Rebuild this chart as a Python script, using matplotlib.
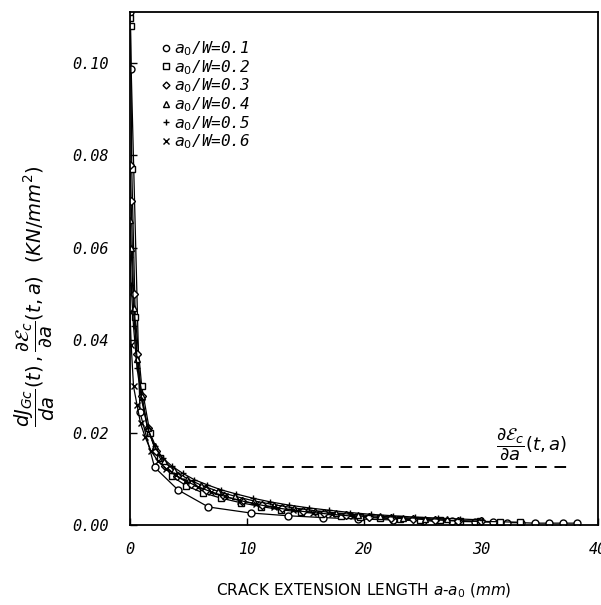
import matplotlib
matplotlib.use("Agg")
import matplotlib.pyplot as plt
from matplotlib.lines import Line2D

# ---- data -------------------------------------------------------------
labels = ["0.1", "0.2", "0.3", "0.4", "0.5", "0.6"]
markers = ["o", "s", "D", "^", "+", "x"]

x01 = [0, 0.1, 0.85, 2.1, 4.1, 6.7, 10.3, 13.5, 16.5, 19.5, 22.5, 25, 27.5, 29.5,
       31, 32.2, 33.4, 34.6, 35.8, 37, 38.2]
y01 = [0.111, 0.0987, 0.0244, 0.0125, 0.0076, 0.0039, 0.0026, 0.0020, 0.0016, 0.0013,
       0.0011, 0.0009, 0.0008, 0.0007, 0.0006, 0.0005, 0.0005, 0.0004, 0.0004, 0.0004, 0.0004]

x02 = [0, 0.05, 0.15, 0.45, 1.0, 1.7, 2.6, 3.6, 4.8, 6.2, 7.8, 9.5, 11.2, 12.9, 14.6,
       16.3, 18, 19.7, 21.4, 23.1, 24.8, 26.5, 28.2, 29.9, 31.6, 33.3]
y02 = [0.1097, 0.108, 0.077, 0.045, 0.030, 0.020, 0.0145, 0.0105, 0.0085, 0.0070, 0.0058,
       0.0048, 0.0040, 0.0033, 0.0028, 0.0024, 0.0020, 0.0017, 0.0015, 0.0013, 0.0011,
       0.0010, 0.0009, 0.0008, 0.0007, 0.0006]

x03 = [0, 0.1, 0.3, 0.6, 1.0, 1.5, 2.2, 3.0, 4.0, 5.2, 6.5, 8.0, 9.6, 11.3, 13.0, 14.8,
       16.6, 18.5, 20.4, 22.3, 24.2, 26.1, 28.0, 30.0]
y03 = [0.078, 0.070, 0.050, 0.037, 0.028, 0.021, 0.016, 0.0128, 0.0105, 0.0088, 0.0075,
       0.0062, 0.0052, 0.0043, 0.0036, 0.0030, 0.0025, 0.0021, 0.0018, 0.0015, 0.0013,
       0.0011, 0.0009, 0.0008]

x04 = [0, 0.1, 0.3, 0.6, 1.0, 1.5, 2.1, 2.9, 3.8, 4.9, 6.1, 7.5, 9.0, 10.6, 12.3, 14.0,
       15.8, 17.6, 19.5, 21.4, 23.3, 25.2, 27.1]
y04 = [0.066, 0.060, 0.047, 0.036, 0.028, 0.021, 0.017, 0.0138, 0.0118, 0.0100, 0.0086,
       0.0073, 0.0062, 0.0052, 0.0044, 0.0037, 0.0031, 0.0026, 0.0022, 0.0019, 0.0016,
       0.0014, 0.0012]

x05 = [0, 0.1, 0.3, 0.6, 1.0, 1.5, 2.1, 2.8, 3.6, 4.5, 5.5, 6.6, 7.8, 9.1, 10.5, 12.0,
       13.6, 15.3, 17.0, 18.8, 20.6, 22.5, 24.4, 26.3, 28.2, 30.1]
y05 = [0.058, 0.052, 0.043, 0.034, 0.027, 0.021, 0.017, 0.0145, 0.0127, 0.0112, 0.0098,
       0.0087, 0.0076, 0.0067, 0.0058, 0.0050, 0.0043, 0.0037, 0.0032, 0.0027, 0.0023,
       0.0020, 0.0017, 0.0015, 0.0013, 0.0011]

x06 = [0, 0.1, 0.3, 0.6, 0.9, 1.3, 1.8, 2.4, 3.1, 3.9, 4.8, 5.8, 6.9, 8.1, 9.4, 10.8,
       12.3, 13.9, 15.6, 17.3, 19.1]
y06 = [0.046, 0.039, 0.030, 0.026, 0.022, 0.019, 0.016, 0.0138, 0.0122, 0.0108, 0.0095,
       0.0083, 0.0072, 0.0062, 0.0053, 0.0045, 0.0038, 0.0032, 0.0027, 0.0023, 0.0019]

dash_x = [4.7, 37.9]
dash_y = [0.01253, 0.01253]

xticks = [0, 10, 20, 30, 40]
yticks = [0.00, 0.02, 0.04, 0.06, 0.08, 0.10]

# ---- figure -----------------------------------------------------------
mono = ["DejaVu Sans Mono"]
fig = plt.figure(figsize=(6.01, 6.05), dpi=100)
ax = fig.add_axes([130 / 601, 80 / 605, 468 / 601, 513 / 605])

series = [(x01, y01), (x02, y02), (x03, y03), (x04, y04), (x05, y05), (x06, y06)]
for (xs, ys), m in zip(series, markers):
    ms = 5 if m in ("o", "s") else (4 if m == "D" else 5)
    ax.plot(xs, ys, color="black", lw=0.9, marker=m, ms=ms,
            mfc="white", mec="black", mew=1.0)

ax.plot(dash_x, dash_y, color="black", lw=1.4, ls=(0, (6, 4)))

ax.set_xlim(0, 40)
ax.set_ylim(0, 0.111)
ax.set_xticks(xticks)
ax.set_yticks(yticks)
ax.set_xticklabels([str(t) for t in xticks], fontfamily=mono, style="italic", fontsize=11)
ax.set_yticklabels(["%.2f" % t for t in yticks], fontfamily=mono, style="italic", fontsize=11)
ax.tick_params(direction="in", length=5, width=1, pad=12)
ax.tick_params(axis="y", pad=15)
for s in ax.spines.values():
    s.set_linewidth(1.3)

# legend
handles = [Line2D([], [], ls="none", marker=m, ms=4.5 if m != "D" else 3.5,
                  mfc="white", mec="black", mew=1.0, color="black") for m in markers]
leg_labels = [r"$\mathit{a}_{\mathit{0}}$/W=" + l for l in labels]
leg = ax.legend(handles, leg_labels, loc="upper left", bbox_to_anchor=(0.03, 0.975),
                frameon=False, handletextpad=0.1, labelspacing=0.0, handlelength=0.9,
                prop={"family": "DejaVu Sans Mono", "style": "italic", "size": 11.5})

# annotation for dashed line
ax.text(31.3, 0.0176, r"$\dfrac{\partial \mathcal{E}_{c}}{\partial a}(t,a)$",
        fontsize=13, ha="left", va="center")

# labels
ax.set_xlabel(r"CRACK EXTENSION LENGTH $a$-$a_0$ $\mathit{(mm)}$", fontsize=11,
              fontfamily=["Liberation Sans Narrow", "DejaVu Sans"], labelpad=18)
fig.text(0.058, 0.51,
         r"$\dfrac{dJ_{Gc}}{da}(t)\,,\dfrac{\partial \mathcal{E}_{c}}{\partial a}(t,a)\ \ (KN/mm^{2})$",
         rotation=90, fontsize=14, ha="center", va="center")

fig.savefig("out.png", dpi=100)
